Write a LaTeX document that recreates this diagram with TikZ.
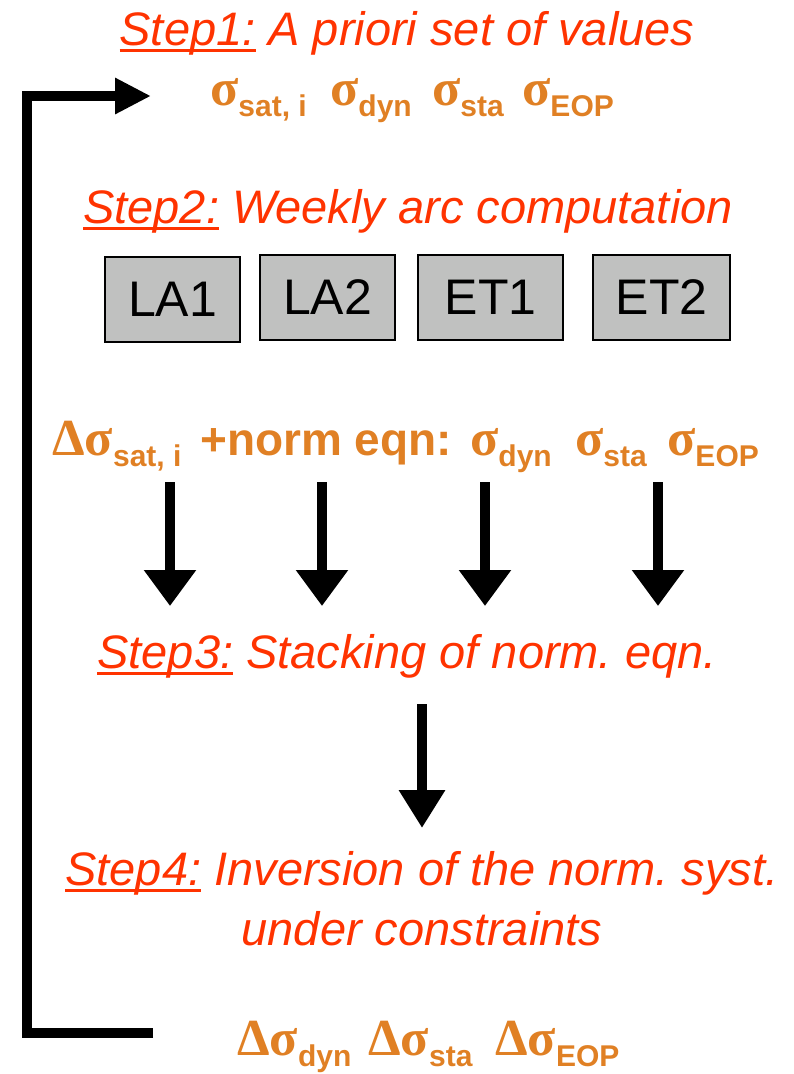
\documentclass[tikz,border=0pt]{standalone}
\usepackage{fontspec}
\setmainfont{Liberation Sans}
\newfontfamily\greekfont{Liberation Serif}
\usetikzlibrary{arrows.meta}
\definecolor{stepred}{RGB}{255,51,0}
\definecolor{sigorange}{RGB}{224,128,36}
\definecolor{boxgray}{RGB}{192,193,192}
\frenchspacing
% underlined step label
\newcommand\steplabel[1]{\setbox0\hbox{#1}\rlap{\rule[-7pt]{\wd0}{2.6pt}}\box0}
% sigma with a bold subscript, optional Delta
\newcommand\gsym[1]{{\fontsize{52}{56}\selectfont\greekfont\bfseries #1}}
\newcommand\sigsub[1]{\gsym{σ}\raisebox{-11pt}{\fontsize{30}{32}\selectfont\bfseries #1}}
\newcommand\dsigsub[1]{\gsym{Δ}\sigsub{#1}}
\tikzset{
  steptext/.style={anchor=base, text=stepred, font=\fontsize{47}{60}\selectfont\itshape, align=center, inner sep=0pt},
  sigtext/.style={anchor=base west, text=sigorange, font=\fontsize{46}{50}\selectfont\bfseries, inner sep=0pt},
  arcbox/.style={draw=black, line width=1.5pt, fill=boxgray, inner sep=0pt, minimum height=85pt, font=\fontsize{50}{52}\selectfont},
  downarrow/.style={line width=10pt, -{Triangle[width=50pt,length=36pt]}},
  looparrow/.style={line width=10pt, line join=miter, -{Triangle[width=34pt,length=36pt]}}
}
\begin{document}
\begin{tikzpicture}[x=1pt,y=-1pt]
\useasboundingbox (0,0) rectangle (794,1074);

% Step 1
\node[steptext] (s1) at (407,45) {\steplabel{Step1:}\ A priori set of values};
\node[sigtext] (a1) at (210,105) {\sigsub{sat, i}};
\node[sigtext] (a2) at (330,105) {\sigsub{dyn}};
\node[sigtext] (a3) at (432,105) {\sigsub{sta}};
\node[sigtext] (a4) at (522,105) {\sigsub{EOP}};

% Step 2
\node[steptext] (s2) at (408,223) {\steplabel{Step2:}\ Weekly arc computation};
\node[arcbox, minimum width=135pt] (la1) at (172.5,299.5) {LA1};
\node[arcbox, minimum width=135pt] (la2) at (327.5,297.5) {LA2};
\node[arcbox, minimum width=145pt] (et1) at (490.5,297.5) {ET1};
\node[arcbox, minimum width=137pt] (et2) at (661.5,297.5) {ET2};

% weekly results
\node[sigtext] (b1) at (52,455) {\dsigsub{sat, i}};
\node[sigtext] (b2) at (200,455) {+norm eqn:};
\node[sigtext] (b3) at (470,455) {\sigsub{dyn}};
\node[sigtext] (b4) at (575,455) {\sigsub{sta}};
\node[sigtext] (b5) at (667,455) {\sigsub{EOP}};

\foreach \i/\x in {1/170,2/322,3/485,4/658}{
  \coordinate (t\i) at (\x,482);
  \coordinate (h\i) at (\x,606);
  \draw[downarrow] (t\i) -- (h\i);
}

% Step 3
\node[steptext] (s3) at (407,668) {\steplabel{Step3:}\ Stacking of norm. eqn.};
\coordinate (t5) at (422,704);
\coordinate (h5) at (422,828);
\draw[downarrow, -{Triangle[width=44pt,length=38pt]}] (t5) -- (h5);

% Step 4 (base anchor sits on the last line)
\node[steptext] (s4) at (422,945) {\steplabel{Step4:}\ Inversion of the norm. syst.\\under constraints};

% corrections
\node[sigtext] (c1) at (237,1055) {\dsigsub{dyn}};
\node[sigtext] (c2) at (368,1055) {\dsigsub{sta}};
\node[sigtext] (c3) at (495,1055) {\dsigsub{EOP}};

% iteration loop
\coordinate (l0) at (153,1033);
\coordinate (l3) at (151,96);
\draw[looparrow] (l0) -- (27,1033) -- (27,96) -- (l3);
\end{tikzpicture}
\end{document}
